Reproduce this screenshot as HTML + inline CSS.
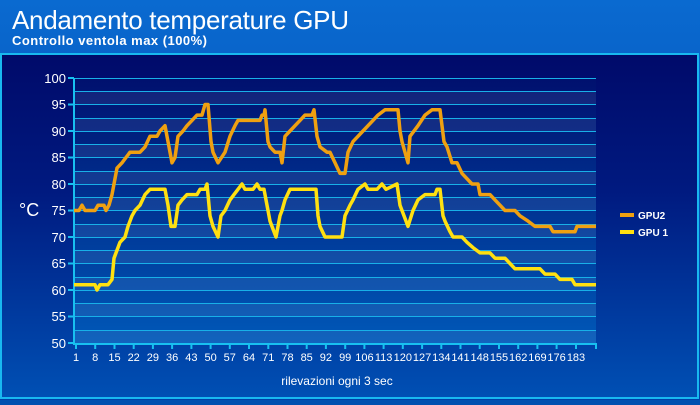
<!DOCTYPE html>
<html><head><meta charset="utf-8"><style>
body{margin:0;width:700px;height:400px;overflow:hidden;background:#0050b0;font-family:"Liberation Sans",sans-serif}
</style></head><body>
<svg width="700" height="400" xmlns="http://www.w3.org/2000/svg" font-family="Liberation Sans, sans-serif">
<defs>
<linearGradient id="bg" x1="0" y1="0" x2="0" y2="1"><stop offset="0" stop-color="#0a6ad0"/><stop offset="1" stop-color="#0040a8"/></linearGradient>
<linearGradient id="pn" x1="0" y1="0" x2="0" y2="1"><stop offset="0" stop-color="#000a6a"/><stop offset="0.4" stop-color="#001a80"/><stop offset="1" stop-color="#0050b4"/></linearGradient>
<linearGradient id="pl" x1="0" y1="0" x2="0" y2="1"><stop offset="0" stop-color="#00106e"/><stop offset="1" stop-color="#0058b8"/></linearGradient>
</defs>
<rect width="700" height="400" fill="url(#bg)"/>
<text x="12" y="29" fill="#fff" font-size="26" textLength="337">Andamento temperature GPU</text>
<text x="12" y="45" fill="#fff" font-size="13" font-weight="bold" textLength="195">Controllo ventola max (100%)</text>
<rect x="1" y="54" width="697" height="344" fill="url(#pn)" stroke="#18b8f0" stroke-width="2"/>
<rect x="74" y="78" width="522" height="265" fill="url(#pl)"/>
<g fill="#ffffff" fill-opacity="0.07">
<rect x="74" y="91" width="522" height="13"/><rect x="74" y="118" width="522" height="13"/><rect x="74" y="144" width="522" height="13"/><rect x="74" y="171" width="522" height="13"/><rect x="74" y="197" width="522" height="13"/><rect x="74" y="224" width="522" height="13"/><rect x="74" y="250" width="522" height="13"/><rect x="74" y="277" width="522" height="13"/><rect x="74" y="303" width="522" height="13"/><rect x="74" y="330" width="522" height="13"/>
</g>
<g stroke="#18b0e8" stroke-width="1">
<path d="M74 78.5H596M74 91.5H596M74 104.5H596M74 118.5H596M74 131.5H596M74 144.5H596M74 157.5H596M74 171.5H596M74 184.5H596M74 197.5H596M74 210.5H596M74 224.5H596M74 237.5H596M74 250.5H596M74 263.5H596M74 277.5H596M74 290.5H596M74 303.5H596M74 316.5H596M74 330.5H596"/>
</g>
<g stroke="#18c0f0" stroke-width="2" fill="none">
<path d="M74 78V344H597"/>
<path d="M68 78H74M68 104.5H74M68 131H74M68 157.5H74M68 184H74M68 210.5H74M68 237H74M68 263.5H74M68 290H74M68 316.5H74M68 343H74"/>
<path d="M76 344v5M95.2 344v5M114.5 344v5M133.7 344v5M152.9 344v5M172.1 344v5M191.4 344v5M210.6 344v5M229.8 344v5M249 344v5M268.3 344v5M287.5 344v5M306.7 344v5M325.9 344v5M345.2 344v5M364.4 344v5M383.6 344v5M402.8 344v5M422.1 344v5M441.3 344v5M460.5 344v5M479.7 344v5M499 344v5M518.2 344v5M537.4 344v5M556.6 344v5M576 344v5M596 344v5"/>
</g>
<g fill="#fff" font-size="13" text-anchor="end">
<text x="66" y="83">100</text><text x="66" y="109">95</text><text x="66" y="136">90</text><text x="66" y="162">85</text><text x="66" y="189">80</text><text x="66" y="215">75</text><text x="66" y="242">70</text><text x="66" y="268">65</text><text x="66" y="295">60</text><text x="66" y="321">55</text><text x="66" y="348">50</text>
</g>
<g fill="#fff" font-size="11" text-anchor="middle">
<text x="76" y="361">1</text><text x="95.2" y="361">8</text><text x="114.5" y="361">15</text><text x="133.7" y="361">22</text><text x="152.9" y="361">29</text><text x="172.1" y="361">36</text><text x="191.4" y="361">43</text><text x="210.6" y="361">50</text><text x="229.8" y="361">57</text><text x="249" y="361">64</text><text x="268.3" y="361">71</text><text x="287.5" y="361">78</text><text x="306.7" y="361">85</text><text x="325.9" y="361">92</text><text x="345.2" y="361">99</text><text x="364.4" y="361">106</text><text x="383.6" y="361">113</text><text x="402.8" y="361">120</text><text x="422.1" y="361">127</text><text x="441.3" y="361">134</text><text x="460.5" y="361">141</text><text x="479.7" y="361">148</text><text x="499" y="361">155</text><text x="518.2" y="361">162</text><text x="537.4" y="361">169</text><text x="556.6" y="361">176</text><text x="576" y="361">183</text>
</g>
<text x="337" y="385" fill="#fff" font-size="12" text-anchor="middle">rilevazioni ogni 3 sec</text>
<text x="19" y="216" fill="#fff" font-size="18">°C</text>
<g transform="translate(0,608) scale(1,-5.3)" fill="none" stroke-linejoin="round">
<polyline vector-effect="non-scaling-stroke" stroke="#f0a010" stroke-width="3.5" points="74,75 79,75 82,76 85,75 95,75 98,76 104,76 106,75 109,76 112,78 117,83 122,84 126,85 130,86 140,86 145,87 150,89 157,89 160,90 165,91 168,88 172,84 175,85 178,89 183,90 187,91 192,92 197,93 202,93 205,95 208,95 211,88 213,86 218,84 225,86 230,89 235,91 238,92 260,92 262,93 264,93 265,94 268,88 270,87 275,86 280,86 282,84 285,89 290,90 295,91 300,92 305,93 312,93 314,94 317,89 320,87 327,86 330,86 335,84 340,82 345,82 348,86 353,88 358,89 363,90 368,91 373,92 378,93 385,94 398,94 400,90 402,88 408,84 410,89 418,91 425,93 432,94 440,94 444,88 447,87 452,84 457,84 462,82 467,81 472,80 478,80 480,78 490,78 495,77 500,76 505,75 515,75 520,74 528,73 535,72 550,72 553,71 575,71 577,72 596,72"/>
<polyline vector-effect="non-scaling-stroke" stroke="#ffe010" stroke-width="3.5" points="74,61 95,61 97,60 100,61 108,61 112,62 114,66 116,67 120,69 125,70 128,72 132,74 135,75 140,76 145,78 150,79 165,79 168,76 171,72 175,72 178,76 182,77 187,78 197,78 200,79 205,79 207,80 210,74 213,72 218,70 221,74 225,75 230,77 234,78 238,79 242,80 245,79 253,79 257,80 260,79 264,79 267,76 270,73 274,71 276,70 280,74 282,75 285,77 290,79 316,79 318,74 320,72 325,70 342,70 345,74 350,76 353,77 358,79 365,80 368,79 377,79 382,80 386,79 397,80 400,76 402,75 408,72 413,75 418,77 425,78 435,78 437,79 440,79 443,74 445,73 450,71 453,70 462,70 467,69 473,68 480,67 490,67 495,66 505,66 510,65 515,64 540,64 545,63 555,63 560,62 572,62 575,61 596,61"/>
</g>
<line x1="620" y1="215" x2="634" y2="215" stroke="#f0a010" stroke-width="4"/>
<line x1="620" y1="232" x2="634" y2="232" stroke="#ffe010" stroke-width="4"/>
<text x="638" y="219" fill="#fff" font-size="10" font-weight="bold">GPU2</text>
<text x="638" y="236" fill="#fff" font-size="10" font-weight="bold">GPU 1</text>
</svg>
</body></html>
